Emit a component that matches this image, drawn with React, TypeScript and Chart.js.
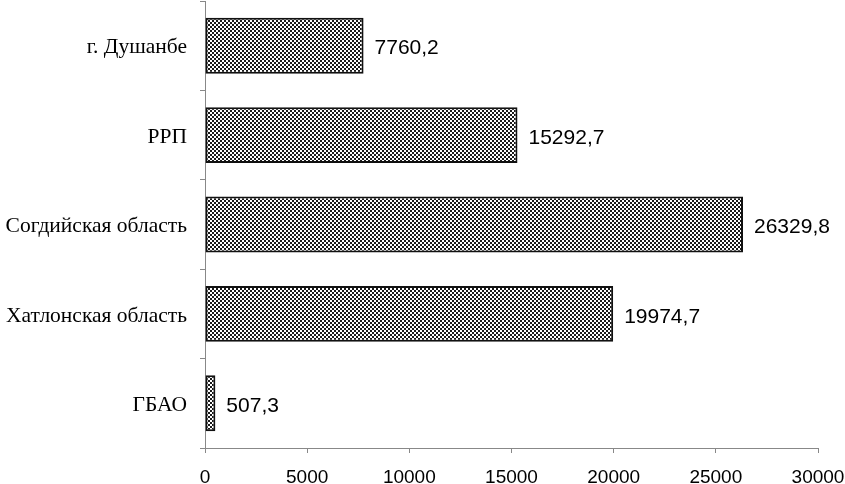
import React, { useEffect, useRef } from "react";
import { Chart, registerables } from "chart.js";

Chart.register(...registerables);

const categories = ["г. Душанбе", "РРП", "Согдийская область", "Хатлонская область", "ГБАО"];
const values = [7760.2, 15292.7, 26329.8, 19974.7, 507.3];
const xMin = 0;
const xMax = 30000;
const xStep = 5000;

function makePattern(): CanvasPattern | string {
  const c = document.createElement("canvas");
  c.width = 4;
  c.height = 4;
  const ctx = c.getContext("2d");
  if (!ctx) return "#555";
  ctx.fillStyle = "#ffffff";
  ctx.fillRect(0, 0, 4, 4);
  ctx.fillStyle = "#1a1a1a";
  ctx.fillRect(0, 0, 2, 2);
  ctx.fillRect(2, 2, 2, 2);
  const p = ctx.createPattern(c, "repeat");
  return p || "#555";
}

const valueLabels = {
  id: "valueLabels",
  afterDatasetsDraw(chart: any) {
    const ctx = chart.ctx;
    const meta = chart.getDatasetMeta(0);
    ctx.save();
    ctx.font = "21px 'Liberation Sans', Arial, sans-serif";
    ctx.fillStyle = "#000";
    ctx.textAlign = "left";
    ctx.textBaseline = "middle";
    meta.data.forEach((el: any, i: number) => {
      const txt = values[i].toFixed(1).replace(".", ",");
      ctx.fillText(txt, el.x + 11, el.y + 3);
    });
    ctx.restore();
  },
};

export default function App() {
  const ref = useRef<HTMLCanvasElement>(null);
  useEffect(() => {
    document.body.style.margin = "0";
    if (!ref.current) return;
    const chart = new Chart(ref.current, {
      type: "bar",
      data: {
        labels: categories,
        datasets: [
          {
            data: values,
            backgroundColor: makePattern() as any,
            borderColor: "#111",
            borderWidth: 2,
            borderSkipped: false,
            barPercentage: 0.625,
            categoryPercentage: 1,
          },
        ],
      },
      options: {
        indexAxis: "y",
        animation: false,
        responsive: true,
        maintainAspectRatio: false,
        layout: { padding: { top: 1, right: 27, left: 0, bottom: 0 } },
        plugins: { legend: { display: false }, tooltip: { enabled: false } },
        scales: {
          x: {
            min: xMin,
            max: xMax,
            ticks: {
              stepSize: xStep,
              color: "#000",
              font: { family: "'Liberation Sans', Arial, sans-serif", size: 19 },
              padding: 13,
              callback: (v: any) => String(v),
            },
            grid: { drawOnChartArea: false, drawTicks: true, tickLength: 5, color: "#888" },
            border: { color: "#888", width: 1 },
            afterFit: (s: any) => {
              s.height = 36;
              s.paddingLeft = 0;
              s.paddingRight = 0;
            },
          },
          y: {
            ticks: {
              color: "#000",
              font: { family: "'Liberation Serif', 'Times New Roman', serif", size: 21.5 },
              padding: 13,
              labelOffset: 2,
            },
            grid: { drawOnChartArea: false, drawTicks: true, tickLength: 5, color: "#888", offset: true },
            border: { color: "#888", width: 1 },
            afterFit: (s: any) => {
              s.width = 205;
              s.paddingTop = 0;
              s.paddingBottom = 0;
            },
          },
        },
      },
      plugins: [valueLabels],
    });
    return () => chart.destroy();
  }, []);
  return (
    <div style={{ position: "relative", width: 845, height: 484 }}>
      <canvas ref={ref} />
    </div>
  );
}
